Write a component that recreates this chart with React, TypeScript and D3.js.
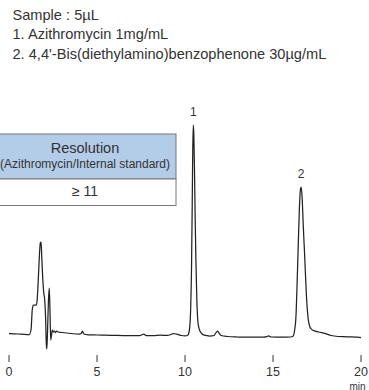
import React from "react";
import * as d3 from "d3";

// Chromatogram trace: retention time (min) and detector signal (arbitrary units)
const times = [
  0.0, 0.5, 1.0, 1.15, 1.25, 1.32, 1.38, 1.45, 1.55, 1.6, 1.66, 1.72, 1.78, 1.82, 1.86, 1.91, 1.97, 2.03, 2.08, 2.12, 2.15, 2.19, 2.24, 2.29, 2.33, 2.37, 2.41, 2.46, 2.52, 2.58, 2.64, 2.7, 2.8, 3.0, 3.5, 4.0, 4.1, 4.17, 4.25, 4.5, 5.0, 5.5, 6.0, 6.5, 7.0, 7.4, 7.55, 7.65, 7.8, 8.2, 8.6, 9.0, 9.2, 9.35, 9.55, 9.8, 10.0, 10.15, 10.22, 10.27, 10.32, 10.37, 10.41, 10.44, 10.47, 10.5, 10.54, 10.58, 10.62, 10.67, 10.72, 10.78, 10.85, 10.95, 11.1, 11.4, 11.65, 11.75, 11.84, 11.93, 12.05, 12.4, 13.0, 13.5, 14.0, 14.5, 14.65, 14.75, 14.9, 15.5, 16.0, 16.15, 16.22, 16.3, 16.4, 16.5, 16.56, 16.6, 16.65, 16.72, 16.8, 16.9, 17.0, 17.1, 17.15, 17.3, 17.6, 17.95, 18.3, 18.7, 19.0, 19.5, 19.8, 20.0,
];
const signal = [
  2.3, 2.0, 1.5, 1.5, 6, 26, 31, 31, 31, 36, 55, 78, 93, 94, 80, 60, 44, 36, 18, -8, -13, 5, 35, 48, 24, -4, 0, 6, 4, 5, 3.5, 5, 4, 3.5, 2.5, 2, 2.5, 5, 2, 1.2, 1, 0.8, 0.6, 0.4, 0.4, 0.4, 1.2, 2, 0.4, 0.4, 0.8, 0.6, 1.5, 2.5, 1.8, 0.5, 0.2, 0.8, 3, 9, 26, 68, 130, 185, 211, 203, 165, 115, 75, 38, 17, 9, 5, 2.5, 0.8, 0, 0.5, 3, 5, 3, 0.5, -0.5, -1, -1.2, -1.2, -1.2, -0.5, 0.2, -1, -1.2, -1, 0, 5, 18, 70, 128, 147, 149, 140, 110, 80, 40, 17, 9, 7.5, 5.5, 4, 2.7, 0.5, -0.5, -0.7, -0.8, -1.2, -1.7,
];

const xTicks = [0, 5, 10, 15, 20];
const peakTimes = [10.47, 16.59];
const peakHeights = [211, 149];
const peakLabels = ["1", "2"];

const headerLines = [
  "Sample : 5µL",
  "1. Azithromycin 1mg/mL",
  "2. 4,4'-Bis(diethylamino)benzophenone 30µg/mL",
];
const tableHeader = ["Resolution", "(Azithromycin/Internal standard)"];
const tableValue = "≥ 11";

const FONT = "'Liberation Sans', Arial, Helvetica, sans-serif";

export default function App() {
  const width = 369;
  const height = 390;
  const x = d3.scaleLinear().domain([0, 20]).range([9, 361]);
  const y = d3.scaleLinear().domain([0, 211]).range([336, 125]);

  const pts: [number, number][] = times.map((t, i) => [t, signal[i]]);
  const line = d3
    .line<[number, number]>()
    .x((d) => x(d[0]))
    .y((d) => y(d[1]))
    .curve(d3.curveMonotoneX);

  return (
    <svg
      width={width}
      height={height}
      style={{ position: "absolute", left: 0, top: 0, background: "#fff" }}
      fontFamily={FONT}
    >
      {headerLines.map((t, i) => (
        <text key={i} x={12.5} y={19.5 + i * 19.5} fontSize={14.6} fill="#333">
          {t}
        </text>
      ))}

      {/* table */}
      <rect x={-6} y={134} width={182} height={45} fill="#b3cce8" stroke="#777" strokeWidth={1} />
      <rect x={-6} y={179} width={182} height={26.5} fill="#fff" stroke="#777" strokeWidth={1} />
      <text x={85} y={152.5} textAnchor="middle" fontSize={14.5} fill="#333">
        {tableHeader[0]}
      </text>
      <text x={85} y={168} textAnchor="middle" fontSize={12} fill="#333">
        {tableHeader[1]}
      </text>
      <text x={85} y={196} textAnchor="middle" fontSize={14} fill="#333">
        {tableValue}
      </text>

      {/* trace */}
      <path d={line(pts) || ""} fill="none" stroke="#222" strokeWidth={1.25} strokeLinejoin="round" />

      {/* peak labels */}
      {peakTimes.map((t, i) => (
        <text key={i} x={x(t)} y={y(peakHeights[i]) - 9} textAnchor="middle" fontSize={12} fill="#333">
          {peakLabels[i]}
        </text>
      ))}

      {/* x axis ticks */}
      {xTicks.map((t) => (
        <g key={t}>
          <line x1={x(t)} x2={x(t)} y1={355} y2={362} stroke="#333" strokeWidth={1} />
          <text x={x(t)} y={376} textAnchor="middle" fontSize={12.5} fill="#333">
            {t}
          </text>
        </g>
      ))}
      <text x={357.5} y={389.5} textAnchor="middle" fontSize={10} fill="#333">
        min
      </text>
    </svg>
  );
}
